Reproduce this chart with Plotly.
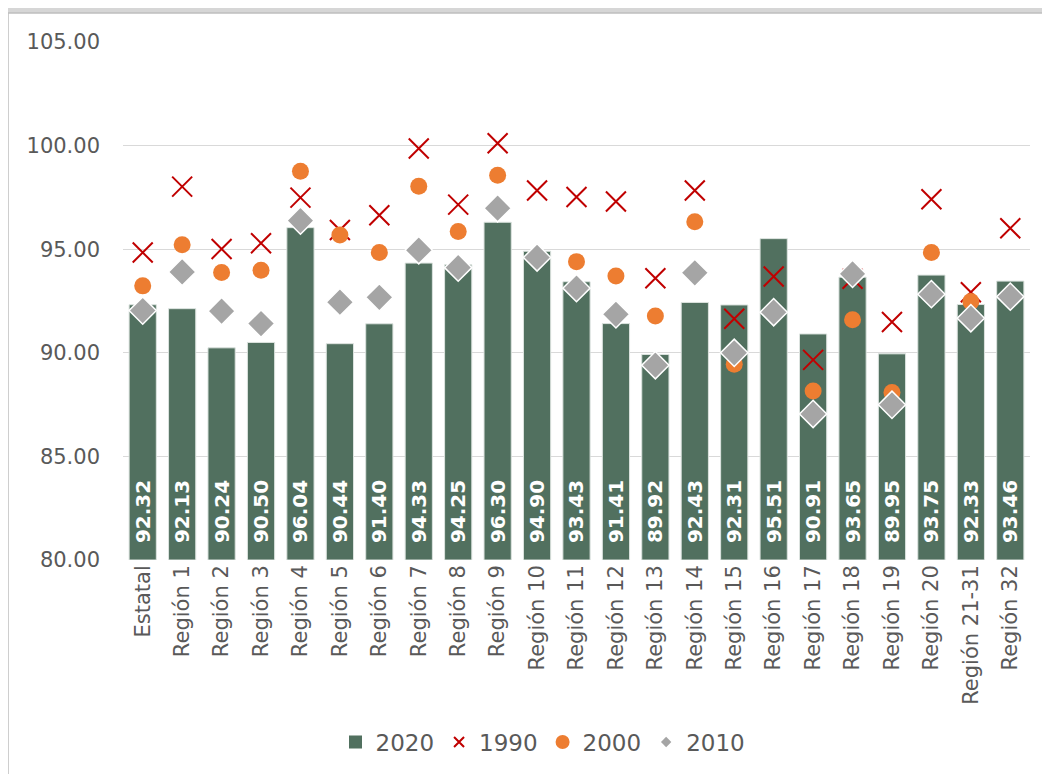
import plotly.graph_objects as go

categories = ["Estatal", "Región 1", "Región 2", "Región 3", "Región 4", "Región 5",
              "Región 6", "Región 7", "Región 8", "Región 9", "Región 10", "Región 11",
              "Región 12", "Región 13", "Región 14", "Región 15", "Región 16", "Región 17",
              "Región 18", "Región 19", "Región 20", "Región 21-31", "Región 32"]

v2020 = [92.32, 92.13, 90.24, 90.50, 96.04, 90.44, 91.40, 94.33, 94.25, 96.30, 94.90, 93.43,
         91.41, 89.92, 92.43, 92.31, 95.51, 90.91, 93.65, 89.95, 93.75, 92.33, 93.46]
v1990 = [94.84, 98.02, 95.01, 95.29, 97.49, 95.93, 96.64, 99.86, 97.15, 100.11, 97.83, 97.52,
         97.30, 93.60, 97.83, 91.64, 93.68, 89.66, 93.57, 91.49, 97.41, 92.92, 96.01]
v2000 = [93.23, 95.21, 93.87, 93.98, 98.76, 95.69, 94.84, 98.04, 95.85, 98.57, 94.60, 94.40,
         93.71, 91.78, 96.32, 89.45, 91.96, 88.16, 91.59, 88.08, 94.84, 92.47, 92.70]
v2010 = [92.04, 93.90, 92.01, 91.41, 96.38, 92.44, 92.68, 94.95, 94.11, 96.98, 94.60, 93.12,
         91.86, 89.40, 93.86, 90.00, 91.96, 87.05, 93.81, 87.49, 92.83, 91.67, 92.71]

y_ticks = [80, 85, 90, 95, 100, 105]
y_min, y_max = 80, 105

GRAY_TXT = "#595959"
FONT = "DejaVu Sans"
C_BAR, C_X, C_DOT, C_DIA = "#51705F", "#C00000", "#ED7D31", "#A5A5A5"

fig = go.Figure()

# bars start at the axis minimum, like the original (axis floor 80)
fig.add_trace(go.Bar(
    x=categories, y=[v - y_min for v in v2020], base=y_min, name="2020",
    marker=dict(color=C_BAR, line=dict(color="#DCE3DF", width=1)),
    text=["\u00a0\u00a0" + f"{v:.2f}" for v in v2020], texttemplate="%{text}",
    textposition="inside", insidetextanchor="start", textangle=-90,
    constraintext="none",
    textfont=dict(family=FONT, size=20, color="white", weight="bold"),
    showlegend=False,
))
fig.add_trace(go.Scatter(
    x=categories, y=v1990, name="1990", mode="markers", showlegend=False,
    marker=dict(symbol="x-thin", size=20, line=dict(color=C_X, width=2), color=C_X),
))
fig.add_trace(go.Scatter(
    x=categories, y=v2000, name="2000", mode="markers", showlegend=False,
    marker=dict(symbol="circle", size=17, color=C_DOT, line=dict(width=0)),
))
fig.add_trace(go.Scatter(
    x=categories, y=v2010, name="2010", mode="markers", showlegend=False,
    marker=dict(symbol="diamond", size=21, color=C_DIA, line=dict(color="white", width=1.5)),
))

# legend entries (smaller symbols, as in the original legend)
fig.add_trace(go.Scatter(x=[None], y=[None], name="2020", mode="markers",
                         marker=dict(symbol="square", size=13, color=C_BAR)))
fig.add_trace(go.Scatter(x=[None], y=[None], name="1990", mode="markers",
                         marker=dict(symbol="x-thin", size=10, color=C_X, line=dict(color=C_X, width=2))))
fig.add_trace(go.Scatter(x=[None], y=[None], name="2000", mode="markers",
                         marker=dict(symbol="circle", size=14, color=C_DOT)))
fig.add_trace(go.Scatter(x=[None], y=[None], name="2010", mode="markers",
                         marker=dict(symbol="diamond", size=8, color=C_DIA)))

OFF = 8  # page body margin
W, H = 1050 - OFF, 774 - OFF
L, R, T, B = 123 - OFF, 20, 42 - OFF, 214
pw, ph = W - L - R, H - T - B

def px(x):
    return (x - OFF - L) / pw

def py(y):
    return (H - B - (y - OFF)) / ph

fig.update_layout(
    width=W, height=H,
    margin=dict(l=L, r=R, t=T, b=B, pad=0, autoexpand=False),
    paper_bgcolor="#D6D6D6",
    plot_bgcolor="rgba(0,0,0,0)",
    font=dict(family=FONT, color=GRAY_TXT),
    bargap=0.31,
    showlegend=True,
    legend=dict(orientation="h", x=px(543), xanchor="center", y=py(742), yanchor="middle",
                font=dict(size=23, color=GRAY_TXT), bgcolor="rgba(0,0,0,0)",
                traceorder="normal", itemwidth=30, itemsizing="trace"),
    shapes=[dict(type="rect", xref="paper", yref="paper",
                 x0=px(8), x1=px(1060), y0=py(790), y1=py(13),
                 fillcolor="white", line=dict(color="#BFBFBF", width=1.5), layer="below")],
)

fig.update_xaxes(
    range=[-0.5, len(categories) - 0.5],
    tickangle=-90, tickfont=dict(size=21, color=GRAY_TXT),
    showgrid=False, showline=False, ticks="", automargin=False,
)
fig.update_yaxes(
    range=[y_min, y_max], tickvals=y_ticks, tickformat=".2f",
    tickfont=dict(size=21, color=GRAY_TXT),
    showgrid=True, gridcolor="#D9D9D9", gridwidth=1.3,
    zeroline=False, showline=False, ticks="", ticklabelstandoff=22, automargin=False,
)

fig.write_html("out.html")
